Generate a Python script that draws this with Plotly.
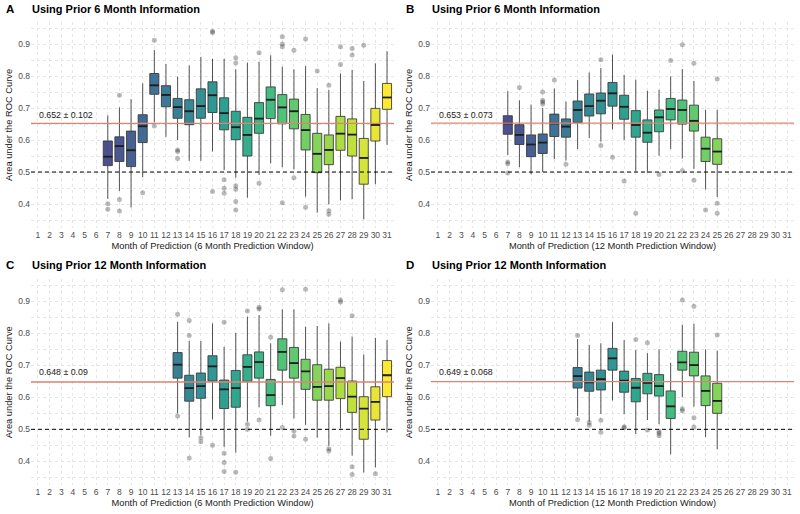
import plotly.graph_objects as go
from plotly.colors import sample_colorscale

# ---------------- data ----------------
month_labels = [str(m) for m in range(1, 32)]
y_tick_vals = [0.4, 0.5, 0.6, 0.7, 0.8, 0.9]

a_months = list(range(7, 32))
a_lower = [.416, .441, .389, .484, .655, .610, .600, .535, .535, .564, .506, .482, .420, .491, .527, .515, .508, .423, .373, .399, .411, .415, .352, .462, .585]
a_q1 = [.520, .533, .517, .592, .743, .704, .668, .648, .668, .686, .632, .601, .550, .621, .667, .651, .635, .569, .498, .523, .568, .550, .462, .597, .696]
a_median = [.548, .581, .568, .643, .771, .741, .703, .690, .706, .740, .684, .640, .616, .667, .726, .702, .690, .631, .557, .569, .620, .617, .544, .647, .733]
a_q3 = [.597, .610, .628, .679, .808, .770, .730, .726, .760, .782, .732, .690, .671, .717, .766, .742, .728, .680, .621, .616, .674, .666, .605, .699, .777]
a_upper = [.677, .702, .728, .777, .881, .838, .798, .833, .860, .854, .854, .821, .842, .845, .865, .829, .821, .831, .762, .756, .808, .819, .785, .840, .878]
a_out_month = [7, 7, 8, 8, 8, 10, 11, 11, 13, 13, 13, 16, 16, 16, 17, 17, 17, 18, 18, 18, 18, 18, 18, 20, 20, 22, 22, 22, 22, 23, 23, 24, 24, 25, 26, 26, 26, 27, 27, 28, 28, 29]
a_out_value = [.401, .384, .740, .414, .378, .435, .912, .644, .569, .564, .542, .940, .936, .439, .476, .449, .434, .857, .841, .457, .446, .408, .381, .873, .465, .923, .900, .892, .404, .881, .482, .916, .390, .816, .771, .379, .368, .892, .836, .886, .866, .896]

b_months = list(range(7, 26))
b_lower = [.553, .515, .493, .500, .540, .536, .572, .607, .595, .633, .600, .502, .497, .551, .572, .542, .510, .445, .422]
b_q1 = [.618, .586, .548, .558, .611, .609, .655, .675, .682, .706, .665, .609, .593, .626, .663, .650, .628, .533, .524]
b_median = [.652, .616, .586, .592, .652, .642, .694, .706, .723, .746, .704, .647, .623, .671, .697, .694, .660, .573, .564]
b_q3 = [.676, .648, .616, .619, .681, .666, .722, .744, .747, .780, .740, .692, .663, .694, .730, .725, .709, .609, .604]
b_upper = [.753, .724, .711, .700, .761, .720, .788, .811, .825, .867, .804, .789, .754, .757, .799, .822, .785, .695, .695]
b_out_month = [7, 7, 7, 8, 10, 10, 10, 10, 11, 12, 15, 15, 16, 17, 18, 20, 21, 22, 22, 23, 23, 24, 25, 25, 25]
b_out_value = [.531, .526, .497, .764, .750, .724, .719, .713, .788, .524, .851, .583, .546, .472, .371, .492, .849, .898, .504, .840, .474, .381, .791, .402, .371]

c_months = list(range(13, 32))
c_lower = [.550, .475, .482, .531, .445, .427, .524, .569, .480, .576, .534, .514, .474, .448, .503, .418, .365, .381, .490]
c_q1 = [.660, .588, .597, .651, .565, .569, .650, .660, .574, .685, .660, .625, .591, .591, .596, .553, .469, .529, .602]
c_median = [.702, .629, .635, .697, .625, .629, .695, .710, .607, .742, .707, .681, .633, .635, .660, .602, .565, .586, .669]
c_q3 = [.740, .669, .676, .730, .654, .684, .733, .742, .656, .783, .756, .719, .702, .688, .694, .651, .602, .633, .715]
c_upper = [.836, .776, .776, .831, .758, .802, .852, .857, .769, .875, .875, .821, .823, .831, .774, .790, .734, .786, .779]
c_out_month = [13, 13, 14, 14, 14, 15, 15, 16, 17, 17, 17, 17, 18, 19, 19, 19, 20, 20, 20, 21, 21, 22, 22, 23, 23, 24, 24, 26, 26, 27, 27, 28, 28, 28, 30]
c_out_value = [.860, .542, .840, .793, .410, .474, .461, .450, .835, .425, .396, .368, .366, .870, .516, .500, .882, .876, .529, .788, .409, .936, .506, .495, .479, .938, .469, .439, .432, .904, .898, .855, .383, .359, .361]

d_months = list(range(13, 26))
d_lower = [.542, .524, .548, .590, .547, .485, .529, .516, .422, .600, .571, .476, .438]
d_q1 = [.629, .619, .623, .685, .616, .586, .611, .604, .534, .685, .667, .574, .550]
d_median = [.666, .647, .657, .722, .652, .630, .645, .635, .572, .709, .701, .620, .589]
d_q3 = [.693, .679, .685, .753, .682, .659, .675, .671, .620, .744, .741, .667, .644]
d_upper = [.782, .764, .769, .835, .779, .748, .738, .750, .708, .827, .830, .750, .746]
d_out_month = [13, 13, 14, 14, 15, 15, 17, 17, 18, 19, 19, 20, 20, 20, 22, 22, 22, 23, 23, 23, 25]
d_out_value = [.793, .530, .521, .513, .528, .491, .508, .505, .781, .771, .498, .493, .488, .480, .904, .564, .558, .885, .536, .507, .795]

panel_letters = ["A", "B", "C", "D"]
panel_titles = ["Using Prior 6 Month Information", "Using Prior 6 Month Information",
                "Using Prior 12 Month Information", "Using Prior 12 Month Information"]
x_titles = ["Month of Prediction (6 Month Prediction Window)", "Month of Prediction (12 Month Prediction Window)",
            "Month of Prediction (6 Month Prediction Window)", "Month of Prediction (12 Month Prediction Window)"]
mean_auc = [0.652, 0.653, 0.648, 0.649]
sd_auc = [0.102, 0.073, 0.09, 0.068]
chance_level = 0.5

panels = [
    (a_months, a_lower, a_q1, a_median, a_q3, a_upper, a_out_month, a_out_value),
    (b_months, b_lower, b_q1, b_median, b_q3, b_upper, b_out_month, b_out_value),
    (c_months, c_lower, c_q1, c_median, c_q3, c_upper, c_out_month, c_out_value),
    (d_months, d_lower, d_q1, d_median, d_q3, d_upper, d_out_month, d_out_value),
]

# ---------------- layout geometry ----------------
W, H = 800, 514
x_domains = [(31 / W, 394 / W), (431 / W, 794 / W)]
y_domains = [(1 - 228 / H, 1 - 22 / H), (1 - 485.3 / H, 1 - 279.3 / H)]
FONT = "Liberation Sans, Arial, Helvetica, sans-serif"
box_w = 0.78
GRID = "#e6e6e6"

fig = go.Figure()
layout_axes = {}
annotations = []
shapes = []

for i, (months, lo, q1, med, q3, hi, om, ov) in enumerate(panels):
    row, col = divmod(i, 2)
    n = i + 1
    xa = "x" if n == 1 else f"x{n}"
    ya = "y" if n == 1 else f"y{n}"
    colors = sample_colorscale("Viridis", [(m - 1) / 30 for m in months])
    for m, l, a, md, b, h, c in zip(months, lo, q1, med, q3, hi, colors):
        fig.add_trace(go.Box(
            x=[m], q1=[a], median=[md], q3=[b], lowerfence=[l], upperfence=[h],
            fillcolor=c, line=dict(color="rgba(40,40,40,0.95)", width=0.9),
            width=box_w, whiskerwidth=0, boxpoints=False, opacity=0.93,
            xaxis=xa, yaxis=ya, showlegend=False,
        ))
    # thicker median bars (ggplot style)
    mx, my = [], []
    for m, md in zip(months, med):
        mx += [m - box_w / 2, m + box_w / 2, None]
        my += [md, md, None]
    fig.add_trace(go.Scatter(x=mx, y=my, mode="lines", line=dict(color="#1e1e1e", width=1.8),
                             xaxis=xa, yaxis=ya, showlegend=False, hoverinfo="skip"))
    # outliers
    fig.add_trace(go.Scatter(x=om, y=ov, mode="markers",
                             marker=dict(color="rgba(0,0,0,0.27)", size=5, line=dict(width=0)),
                             xaxis=xa, yaxis=ya, showlegend=False))

    xkey = "xaxis" if n == 1 else f"xaxis{n}"
    ykey = "yaxis" if n == 1 else f"yaxis{n}"
    layout_axes[xkey] = dict(
        domain=list(x_domains[col]), anchor=ya, range=[0.4, 31.6], automargin=False,
        tickmode="array", tickvals=list(range(1, 32)), ticktext=month_labels, tickangle=0,
        showgrid=True, gridcolor=GRID, griddash="dot", gridwidth=1,
        zeroline=False, showline=False, ticks="",
        tickfont=dict(family=FONT, size=8.5, color="#4d4d4d"),
        title=dict(text=x_titles[i], font=dict(family=FONT, size=9.3, color="#1a1a1a"), standoff=3),
    )
    layout_axes[ykey] = dict(
        domain=list(y_domains[row]), anchor=xa, range=[0.325, 0.969], automargin=False,
        tickmode="array", tickvals=y_tick_vals, ticktext=[f"{v:.1f}" for v in y_tick_vals],
        showgrid=True, gridcolor=GRID, griddash="dot", gridwidth=1,
        minor=dict(dtick=0.05, tick0=0.35, showgrid=True, gridcolor=GRID, griddash="dot"),
        zeroline=False, showline=False, ticks="",
        tickfont=dict(family=FONT, size=8.5, color="#4d4d4d"),
        title=dict(text="Area under the ROC Curve", font=dict(family=FONT, size=9.3, color="#1a1a1a"), standoff=3),
    )
    # reference lines
    shapes.append(dict(type="line", xref=f"{xa} domain", yref=ya, x0=0, x1=1, y0=chance_level, y1=chance_level,
                       line=dict(color="black", width=1, dash="4px,3px"), layer="above"))
    shapes.append(dict(type="line", xref=f"{xa} domain", yref=ya, x0=0, x1=1, y0=mean_auc[i], y1=mean_auc[i],
                       line=dict(color="#de8570", width=1.4), layer="above"))
    annotations.append(dict(text=f"{mean_auc[i]:g} \u00b1 {sd_auc[i]:g}", x=0.95, y=0.678, xref=xa, yref=ya,
                            xanchor="left", yanchor="middle", showarrow=False,
                            font=dict(family=FONT, size=8.8, color="#1a1a1a")))
    # panel letter & title
    py_top = [8.5, 265][row]
    annotations.append(dict(text=f"<b>{panel_letters[i]}</b>", x=(4 + 400 * col) / W, y=1 - py_top / H,
                            xref="paper", yref="paper", xanchor="left", yanchor="middle", showarrow=False,
                            font=dict(family=FONT, size=11.5, color="black")))
    annotations.append(dict(text=f"<b>{panel_titles[i]}</b>", x=(30 + 400 * col) / W, y=1 - py_top / H,
                            xref="paper", yref="paper", xanchor="left", yanchor="middle", showarrow=False,
                            font=dict(family=FONT, size=11, color="black")))

fig.update_layout(
    width=W, height=H, margin=dict(l=0, r=0, t=0, b=0),
    paper_bgcolor="white", plot_bgcolor="white",
    annotations=annotations, shapes=shapes, showlegend=False,
    **layout_axes,
)
fig.write_html("out.html", config={"displayModeBar": False},
               post_script="document.body.style.margin='0';document.body.style.overflow='hidden';")
